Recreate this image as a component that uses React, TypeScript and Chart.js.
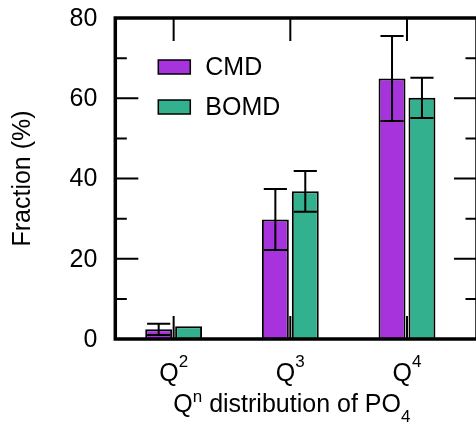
import React, { useEffect, useRef } from "react";
import { Chart, registerables } from "chart.js";

Chart.register(...registerables);

// ---- data ----
const categorySuperscripts = ["2", "3", "4"]; // Q^2, Q^3, Q^4
const seriesLabels = ["CMD", "BOMD"];
const cmdValues = [2.4, 29.8, 64.9];
const cmdErrors = [1.4, 7.6, 10.6];
const bomdValues = [3.2, 36.8, 60.1];
const bomdErrors = [0, 5.1, 5.0];
const yMajorTicks = [0, 20, 40, 60, 80];
const yMinorTicks = [10, 30, 50, 70];
const yAxisTitle = "Fraction (%)";
const xAxisTitle = [
  { text: "Q", kind: "normal" },
  { text: "n", kind: "sup" },
  { text: " distribution of PO", kind: "normal" },
  { text: "4", kind: "sub" },
];

const FONT = "'Liberation Sans', Arial, Helvetica, sans-serif";
const CMD_COLOR = "#a733dc";
const BOMD_COLOR = "#33b18f";

type Seg = { text: string; size: number; dy: number };

function drawRich(ctx: CanvasRenderingContext2D, segs: Seg[], cx: number, baseline: number) {
  let total = 0;
  const widths = segs.map((s) => {
    ctx.font = `${s.size}px ${FONT}`;
    const w = ctx.measureText(s.text).width;
    total += w;
    return w;
  });
  let x = cx - total / 2;
  ctx.textAlign = "left";
  ctx.textBaseline = "alphabetic";
  segs.forEach((s, i) => {
    ctx.font = `${s.size}px ${FONT}`;
    ctx.fillText(s.text, x, baseline + s.dy);
    x += widths[i];
  });
}

const decorPlugin = {
  id: "decor",
  afterDatasetsDraw(chart: any) {
    const ctx: CanvasRenderingContext2D = chart.ctx;
    const { left, right, top, bottom } = chart.chartArea;
    const xs = chart.scales.x;
    const ys = chart.scales.y;
    ctx.save();
    ctx.strokeStyle = "#000";
    ctx.fillStyle = "#000";

    // error bars
    ctx.lineWidth = 2;
    chart.data.datasets.forEach((ds: any, di: number) => {
      const meta = chart.getDatasetMeta(di);
      meta.data.forEach((bar: any, i: number) => {
        const e = ds.errors[i];
        if (!e) return;
        const v = ds.data[i].y;
        const yt = ys.getPixelForValue(v + e);
        const yb = ys.getPixelForValue(v - e);
        const cx = bar.x;
        const hw = bar.width * 0.43;
        ctx.beginPath();
        ctx.moveTo(cx, yt);
        ctx.lineTo(cx, yb);
        ctx.moveTo(cx - hw, yt);
        ctx.lineTo(cx + hw, yt);
        ctx.moveTo(cx - hw, yb);
        ctx.lineTo(cx + hw, yb);
        ctx.stroke();
      });
    });

    // ticks (inward, mirrored)
    ctx.lineWidth = 2;
    const major = 23;
    const minor = 11.5;
    ctx.beginPath();
    yMajorTicks.forEach((t) => {
      const py = ys.getPixelForValue(t);
      ctx.moveTo(left, py);
      ctx.lineTo(left + major, py);
      ctx.moveTo(right, py);
      ctx.lineTo(right - major, py);
    });
    yMinorTicks.forEach((t) => {
      const py = ys.getPixelForValue(t);
      ctx.moveTo(left, py);
      ctx.lineTo(left + minor, py);
      ctx.moveTo(right, py);
      ctx.lineTo(right - minor, py);
    });
    categorySuperscripts.forEach((_, i) => {
      const px = xs.getPixelForValue(i);
      ctx.moveTo(px, top);
      ctx.lineTo(px, top + major);
      ctx.moveTo(px, bottom);
      ctx.lineTo(px, bottom - major);
    });
    ctx.stroke();

    // frame
    ctx.lineWidth = 3.5;
    ctx.strokeRect(left, top, right - left, bottom - top);

    // y tick labels
    ctx.fillStyle = "#000";
    ctx.font = `25px ${FONT}`;
    ctx.textAlign = "right";
    ctx.textBaseline = "middle";
    yMajorTicks.forEach((t) => {
      ctx.fillText(String(t), left - 18, ys.getPixelForValue(t) + 1);
    });

    // legend
    chart.data.datasets.forEach((ds: any, di: number) => {
      const bx = left + 43;
      const by = top + 42 + di * 40;
      ctx.fillStyle = ds.backgroundColor;
      ctx.fillRect(bx, by, 32, 14);
      ctx.lineWidth = 1.5;
      ctx.strokeStyle = "#000";
      ctx.strokeRect(bx, by, 32, 14);
      ctx.fillStyle = "#000";
      ctx.font = `25px ${FONT}`;
      ctx.textAlign = "left";
      ctx.textBaseline = "middle";
      ctx.fillText(ds.label, bx + 47, by + 8);
    });

    // x tick labels
    ctx.fillStyle = "#000";
    categorySuperscripts.forEach((sup, i) => {
      const px = xs.getPixelForValue(i);
      drawRich(
        ctx,
        [
          { text: "Q", size: 25, dy: 0 },
          { text: sup, size: 17, dy: -14 },
        ],
        px,
        bottom + 41.5
      );
    });

    // x title
    const cx = (xs.getPixelForValue(0) + xs.getPixelForValue(categorySuperscripts.length - 1)) / 2 + 1.5;
    drawRich(
      ctx,
      xAxisTitle.map((s) => ({
        text: s.text,
        size: s.kind === "normal" ? 25 : 17,
        dy: s.kind === "sup" ? -10 : s.kind === "sub" ? 10 : 0,
      })),
      cx,
      bottom + 73
    );

    ctx.restore();
  },
};

export default function App() {
  const ref = useRef<HTMLCanvasElement>(null);

  useEffect(() => {
    if (!ref.current) return;
    const chart = new Chart(ref.current, {
      type: "bar",
      data: {
        datasets: [
          {
            label: seriesLabels[0],
            data: cmdValues.map((v, i) => ({ x: i, y: v })),
            errors: cmdErrors,
            backgroundColor: CMD_COLOR,
            borderColor: "#000",
            borderWidth: 2,
          } as any,
          {
            label: seriesLabels[1],
            data: bomdValues.map((v, i) => ({ x: i, y: v })),
            errors: bomdErrors,
            backgroundColor: BOMD_COLOR,
            borderColor: "#000",
            borderWidth: 2,
          } as any,
        ],
      },
      options: {
        animation: false,
        responsive: false,
        maintainAspectRatio: false,
        categoryPercentage: 0.513,
        barPercentage: 0.9,
        layout: { padding: { left: 0, right: 5, top: 18, bottom: 87 } },
        plugins: {
          legend: { display: false },
          tooltip: { enabled: false },
        },
        scales: {
          x: {
            type: "linear",
            min: -0.5,
            max: 2.6,
            offset: false,
            display: false,
            afterBuildTicks: (scale: any) => {
              scale.ticks = categorySuperscripts.map((_, i) => ({ value: i }));
            },
          },
          y: {
            type: "linear",
            min: 0,
            max: 80,
            afterFit: (scale: any) => {
              scale.width = 115.3;
            },
            grid: { display: false, drawTicks: false },
            border: { display: false },
            ticks: { display: false },
            title: {
              display: true,
              text: yAxisTitle,
              color: "#000",
              font: { family: FONT, size: 25 },
              padding: { top: 8, bottom: 0 },
            },
          },
        },
      } as any,
      plugins: [decorPlugin],
    });
    return () => chart.destroy();
  }, []);

  return (
    <div
      style={{
        position: "absolute",
        left: 0,
        top: 0,
        width: 476,
        height: 426,
        overflow: "hidden",
        background: "#fff",
      }}
    >
      <canvas ref={ref} width={482} height={426} style={{ display: "block" }} />
    </div>
  );
}
